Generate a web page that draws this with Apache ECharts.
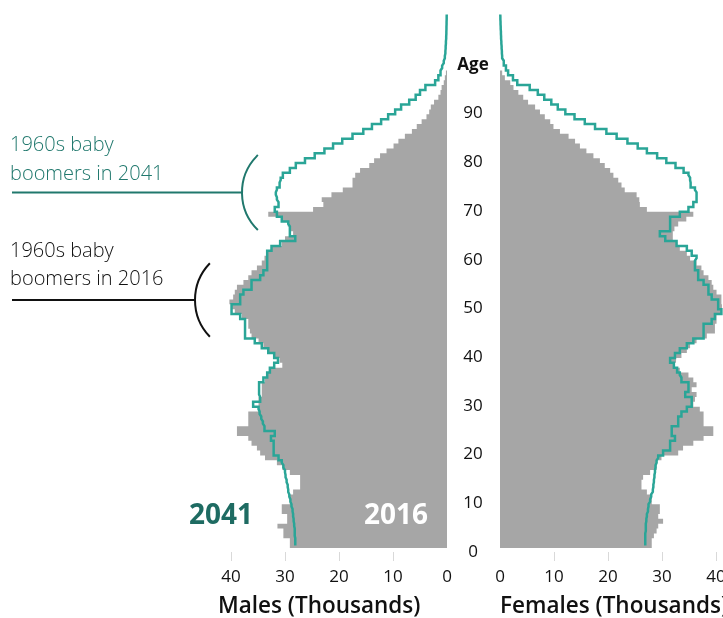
<!DOCTYPE html>
<html>
<head>
<meta charset="utf-8">
<script src="https://cdn.jsdelivr.net/npm/echarts@6/dist/echarts.min.js"></script>
<style>
html, body { margin: 0; padding: 0; background: #fff; }
#main { width: 723px; height: 618px; }
</style>
</head>
<body>
<div id="main"></div>
<script>
// single year ages 0..109 (2016 bars stop at 97)
var ages = [];
for (var a = 0; a <= 109; a++) ages.push(String(a));
var ageTicks = ['0', '10', '20', '30', '40', '50', '60', '70', '80', '90'];
var valueTicks = [0, 10, 20, 30, 40];

// thousands of people
var male2016 = [29.1, 29.1, 30.3, 30.3, 31.4, 29.6, 29.6, 30.6, 30.6, 29.1,
    29.1, 28.5, 27.2, 27.2, 27.2, 29.1, 30.5, 31.5, 33.7, 34.6,
    35.2, 36.2, 36.8, 38.9, 38.9, 36.8, 36.8, 36.8, 34.9, 34.9,
    34.9, 34.3, 34.3, 34.3, 33.7, 33.3, 32.8, 30.5, 31.0, 32.1,
    33.1, 34.0, 34.9, 36.2, 36.5, 36.8, 36.8, 38.0, 39.3, 39.9,
    40.3, 39.6, 39.3, 38.9, 37.7, 36.8, 36.2, 35.2, 34.3, 33.8,
    33.3, 32.5, 30.6, 30.0, 28.5, 29.0, 29.5, 30.5, 33.1, 24.8,
    22.9, 23.2, 21.4, 19.3, 17.5, 17.5, 17.0, 16.1, 14.4, 13.5,
    12.4, 11.2, 9.9, 9.0, 7.8, 6.5, 5.6, 4.7, 3.8, 3.3,
    3.0, 2.4, 1.6, 1.2, 1.0, 0.6, 0.4, 0.2];

var male2041 = [28.1, 28.1, 28.2, 28.2, 28.3, 28.4, 28.5, 28.6, 28.8, 29.0,
    29.2, 29.4, 29.5, 29.7, 29.9, 30.0, 30.3, 30.6, 31.2, 32.1,
    32.1, 32.1, 32.6, 31.9, 33.8, 34.1, 34.4, 34.7, 34.9, 35.9,
    34.6, 34.8, 34.8, 34.8, 34.0, 33.3, 32.8, 32.0, 31.3, 32.0,
    33.1, 34.3, 35.6, 37.4, 37.4, 37.4, 37.4, 38.3, 39.9, 39.9,
    38.3, 38.3, 37.7, 36.2, 36.2, 34.6, 34.0, 33.3, 33.3, 33.3,
    33.3, 32.5, 30.9, 28.1, 29.1, 29.1, 29.4, 30.6, 31.5, 31.9,
    31.2, 31.5, 31.7, 31.5, 31.0, 30.8, 30.4, 29.1, 28.0, 26.3,
    24.5, 22.7, 21.1, 19.4, 17.5, 15.5, 13.9, 12.2, 10.9, 9.6,
    8.5, 7.0, 5.8, 5.0, 4.0, 2.2, 1.6, 1.2, 0.9, 0.6,
    0.4, 0.3, 0.25, 0.2, 0.15, 0.12, 0.1, 0.08, 0.06, 0.05];

var female2016 = [28.1, 28.1, 28.5, 29.0, 29.3, 30.2, 29.3, 29.6, 29.6, 28.1,
    28.1, 27.2, 26.2, 26.2, 26.5, 27.8, 29.0, 29.0, 29.9, 33.0,
    33.9, 35.8, 37.7, 39.5, 39.5, 37.7, 37.7, 37.7, 37.0, 35.8,
    36.1, 36.4, 35.5, 36.4, 35.8, 34.9, 33.3, 32.1, 32.6, 33.6,
    34.6, 35.2, 36.4, 38.3, 39.8, 39.8, 40.1, 40.1, 41.0, 41.1,
    41.0, 41.0, 40.1, 39.5, 39.2, 38.6, 37.7, 37.3, 36.4, 35.2,
    34.6, 33.3, 32.7, 32.0, 32.0, 32.3, 33.0, 34.5, 35.8, 27.2,
    25.9, 25.8, 25.3, 23.1, 22.5, 21.9, 21.0, 20.4, 19.4, 18.5,
    17.3, 16.0, 14.8, 13.9, 12.7, 11.1, 9.9, 9.3, 8.3, 7.4,
    6.5, 5.2, 4.3, 3.4, 2.5, 1.9, 0.9, 0.4];

var female2041 = [26.9, 26.9, 26.9, 27.0, 27.0, 27.1, 27.2, 27.4, 27.5, 27.8,
    28.0, 28.3, 28.4, 28.5, 28.6, 28.7, 28.8, 29.0, 29.3, 30.2,
    31.5, 31.5, 32.4, 31.8, 31.8, 33.0, 33.0, 33.6, 34.6, 35.5,
    35.5, 34.3, 34.9, 34.9, 33.6, 33.3, 32.8, 32.2, 31.5, 32.4,
    33.3, 34.6, 35.8, 37.7, 37.7, 37.7, 39.2, 39.8, 41.0, 40.4,
    40.4, 39.2, 38.6, 38.6, 37.7, 36.7, 36.7, 36.1, 36.1, 36.4,
    35.5, 34.6, 32.7, 30.6, 29.6, 31.5, 31.5, 31.5, 33.3, 34.9,
    35.8, 36.4, 36.4, 36.1, 35.3, 35.2, 34.9, 34.0, 32.5, 30.8,
    29.1, 27.2, 25.5, 23.6, 21.6, 19.7, 17.6, 15.7, 13.8, 12.1,
    10.7, 9.5, 8.2, 7.0, 5.5, 3.2, 2.4, 1.5, 1.1, 0.7,
    0.4, 0.35, 0.3, 0.25, 0.2, 0.17, 0.13, 0.1, 0.07, 0.05];

var teal = '#2aa597';
var tealDark = '#20786d';
var grey = '#a6a6a6';
var fontFamily = '"Open Sans", "Noto Sans", sans-serif';

var myChart = echarts.init(document.getElementById('main'));

function valueAxis(gridIndex, inverse) {
    return {
        gridIndex: gridIndex,
        type: 'value',
        min: 0,
        max: 40,
        interval: 10,
        inverse: inverse,
        offset: 4,
        axisLine: { show: false },
        axisTick: {
            show: true,
            length: 9,
            customValues: [10, 20, 30, 40],
            lineStyle: { color: '#d9d9d9', width: 1 }
        },
        axisLabel: {
            customValues: valueTicks,
            fontSize: 17,
            color: '#111',
            margin: 17,
            fontFamily: fontFamily
        },
        splitLine: { show: false }
    };
}

function barSeries(axisIndex, data) {
    return {
        type: 'bar',
        xAxisIndex: axisIndex,
        yAxisIndex: axisIndex,
        data: data,
        barWidth: '100%',
        barCategoryGap: '0%',
        // large mode fills all bars in one path, so no hairline seams between ages
        large: true,
        largeThreshold: 10,
        clip: false,
        silent: true,
        itemStyle: { color: grey }
    };
}

function lineSeries(axisIndex, data) {
    return {
        type: 'line',
        xAxisIndex: axisIndex,
        yAxisIndex: axisIndex,
        data: data,
        step: 'middle',
        symbol: 'none',
        clip: false,
        silent: true,
        z: 5,
        lineStyle: { color: teal, width: 2.5, join: 'miter' }
    };
}

var option = {
    animation: false,
    grid: [
        { left: 231, width: 216, top: 12, bottom: 70, outerBoundsMode: 'none' },
        { left: 500, width: 216, top: 12, bottom: 70, outerBoundsMode: 'none' }
    ],
    xAxis: [valueAxis(0, true), valueAxis(1, false)],
    yAxis: [
        { gridIndex: 0, type: 'category', data: ages, show: false },
        {
            gridIndex: 1,
            type: 'category',
            data: ages,
            axisLine: { show: false },
            axisTick: { show: false },
            axisLabel: {
                interval: function (index) {
                    return index % 10 === 0 && index <= 100;
                },
                formatter: function (value) {
                    if (ageTicks.indexOf(value) >= 0) return value;
                    return '{b|Age}';
                },
                align: 'center',
                margin: 27,
                padding: [13, 0, 0, 0],
                fontSize: 17,
                color: '#111',
                fontFamily: fontFamily,
                rich: {
                    b: { fontSize: 17, fontWeight: 'bold', color: '#111', fontFamily: fontFamily }
                }
            }
        }
    ],
    series: [
        barSeries(0, male2016),
        lineSeries(0, male2041),
        barSeries(1, female2016),
        lineSeries(1, female2041)
    ],
    graphic: [
        // baby boomer annotations
        { type: 'text', z: 100, style: { x: 10, y: 131, text: '1960s baby\nboomers in 2041', fill: tealDark, fontSize: 20, fontWeight: 300, lineHeight: 29, fontFamily: fontFamily, verticalAlign: 'top' } },
        { type: 'line', z: 100, shape: { x1: 12, y1: 192.5, x2: 242, y2: 192.5 }, style: { stroke: tealDark, lineWidth: 2 } },
        { type: 'arc', z: 100, shape: { cx: 294, cy: 192.5, r: 52, startAngle: 134 * Math.PI / 180, endAngle: 226 * Math.PI / 180, clockwise: true }, style: { stroke: tealDark, lineWidth: 2, fill: 'none' } },
        { type: 'text', z: 100, style: { x: 10, y: 237, text: '1960s baby\nboomers in 2016', fill: '#111', fontSize: 20, fontWeight: 300, lineHeight: 28, fontFamily: fontFamily, verticalAlign: 'top' } },
        { type: 'line', z: 100, shape: { x1: 12, y1: 300, x2: 195, y2: 300 }, style: { stroke: '#111', lineWidth: 2 } },
        { type: 'arc', z: 100, shape: { cx: 248, cy: 300, r: 53, startAngle: 136 * Math.PI / 180, endAngle: 224 * Math.PI / 180, clockwise: true }, style: { stroke: '#111', lineWidth: 2, fill: 'none' } },
        // year labels
        { type: 'text', z: 100, style: { x: 221, y: 516, text: '2041', fill: '#1e6b62', fontSize: 28, fontWeight: 'bold', fontFamily: fontFamily, align: 'center', verticalAlign: 'middle' } },
        { type: 'text', z: 100, style: { x: 396, y: 516, text: '2016', fill: '#fff', fontSize: 28, fontWeight: 'bold', fontFamily: fontFamily, align: 'center', verticalAlign: 'middle' } },
        // axis titles
        { type: 'text', z: 100, style: { x: 218, y: 607, text: 'Males (Thousands)', fill: '#111', fontSize: 22.5, fontWeight: 600, fontFamily: fontFamily, verticalAlign: 'middle' } },
        { type: 'text', z: 100, style: { x: 500, y: 607, text: 'Females (Thousands)', fill: '#111', fontSize: 22.5, fontWeight: 600, fontFamily: fontFamily, verticalAlign: 'middle' } }
    ]
};

myChart.setOption(option);
</script>
</body>
</html>
